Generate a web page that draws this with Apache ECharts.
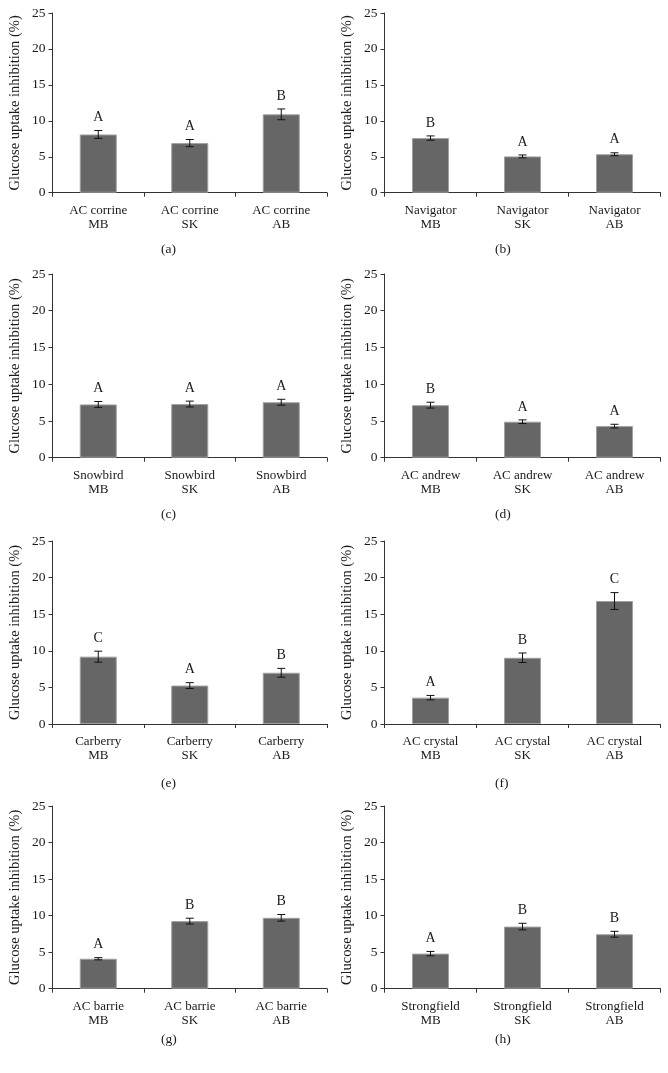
<!DOCTYPE html>
<html>
<head>
<meta charset="utf-8">
<script src="https://cdn.jsdelivr.net/npm/echarts@6/dist/echarts.min.js"></script>
<style>
html,body{margin:0;padding:0;background:#fff;}
#chart{width:668px;height:1073px;}
</style>
</head>
<body>
<div id="chart"></div>
<script>
// ---- data ----
const cultivars = ['AC corrine', 'Navigator', 'Snowbird', 'AC andrew', 'Carberry', 'AC crystal', 'AC barrie', 'Strongfield'];
const provinces = ['MB', 'SK', 'AB'];
const panelTags = ['(a)', '(b)', '(c)', '(d)', '(e)', '(f)', '(g)', '(h)'];
const yTicks = [0, 5, 10, 15, 20, 25];
const yAxisTitle = 'Glucose uptake inhibition (%)';

const meansA = [8.1, 6.9, 10.9];   const errA = [0.55, 0.5, 0.75];  const lettersA = ['A', 'A', 'B'];
const meansB = [7.6, 5.05, 5.35];  const errB = [0.3, 0.2, 0.2];    const lettersB = ['B', 'A', 'A'];
const meansC = [7.25, 7.3, 7.55];  const errC = [0.4, 0.4, 0.4];    const lettersC = ['A', 'A', 'A'];
const meansD = [7.15, 4.9, 4.3];   const errD = [0.4, 0.25, 0.25];  const lettersD = ['B', 'A', 'A'];
const meansE = [9.2, 5.25, 7.0];   const errE = [0.75, 0.4, 0.6];   const lettersE = ['C', 'A', 'B'];
const meansF = [3.6, 9.05, 16.8];  const errF = [0.3, 0.65, 1.15];  const lettersF = ['A', 'B', 'C'];
const meansG = [4.1, 9.25, 9.7];   const errG = [0.15, 0.4, 0.45];  const lettersG = ['A', 'B', 'B'];
const meansH = [4.8, 8.5, 7.45];   const errH = [0.3, 0.45, 0.4];   const lettersH = ['A', 'B', 'B'];

const allMeans = [meansA, meansB, meansC, meansD, meansE, meansF, meansG, meansH];
const allErr = [errA, errB, errC, errD, errE, errF, errG, errH];
const allLetters = [lettersA, lettersB, lettersC, lettersD, lettersE, lettersF, lettersG, lettersH];

// ---- layout ----
const colLeft = [52.5, 384.5];
const colWidth = [274.5, 276];
const rowTop = [13, 274, 541, 806];
const rowBottomY = [192.7, 457.7, 724, 988.7];
const tagY = [248, 513, 782, 1038];
const tagX = [170, 504];

const FONT = '"Liberation Serif", "Times New Roman", serif';
const AXIS_COLOR = '#333';
const TEXT_COLOR = '#1a1a1a';

const grids = [], xAxes = [], yAxes = [], series = [], graphics = [];

for (let p = 0; p < 8; p++) {
  const row = Math.floor(p / 2), col = p % 2;
  grids.push({
    left: colLeft[col], top: rowTop[row],
    width: colWidth[col], height: rowBottomY[row] - rowTop[row]
  });
  xAxes.push({
    type: 'category', gridIndex: p,
    data: provinces.map(pr => cultivars[p] + '\n' + pr),
    axisLine: { lineStyle: { color: AXIS_COLOR, width: 1 } },
    axisTick: { show: true, length: 4, lineStyle: { color: AXIS_COLOR } },
    axisLabel: { color: TEXT_COLOR, fontFamily: FONT, fontSize: 13, lineHeight: 14, margin: 11, interval: 0 },
    splitLine: { show: false }
  });
  yAxes.push({
    type: 'value', gridIndex: p, min: yTicks[0], max: yTicks[yTicks.length - 1], interval: yTicks[1] - yTicks[0],
    name: yAxisTitle, nameLocation: 'middle', nameGap: 30,
    nameTextStyle: { color: TEXT_COLOR, fontFamily: FONT, fontSize: 14.5 },
    axisLine: { show: true, lineStyle: { color: AXIS_COLOR, width: 1 } },
    axisTick: { show: true, length: 4, lineStyle: { color: AXIS_COLOR } },
    axisLabel: { color: TEXT_COLOR, fontFamily: FONT, fontSize: 13.5, margin: 7 },
    splitLine: { show: false }
  });
  series.push({
    type: 'bar', xAxisIndex: p, yAxisIndex: p,
    data: allMeans[p],
    barWidth: 37,
    itemStyle: { color: '#666666', borderColor: '#a0a0a0', borderWidth: 1 },
    silent: true
  });
  const letters = allLetters[p];
  series.push({
    type: 'custom', xAxisIndex: p, yAxisIndex: p,
    data: allMeans[p].map((m, i) => [i, m, allErr[p][i]]),
    silent: true,
    z: 5,
    renderItem: function (params, api) {
      const i = api.value(0), m = api.value(1), e = api.value(2);
      const top = api.coord([i, m + e]);
      const bot = api.coord([i, m - e]);
      const x = top[0];
      const cap = 4;
      const ls = { stroke: '#111', lineWidth: 1 };
      return {
        type: 'group',
        children: [
          { type: 'line', shape: { x1: x, y1: top[1], x2: x, y2: bot[1] }, style: ls },
          { type: 'line', shape: { x1: x - cap, y1: top[1], x2: x + cap, y2: top[1] }, style: ls },
          { type: 'line', shape: { x1: x - cap, y1: bot[1], x2: x + cap, y2: bot[1] }, style: ls },
          { type: 'text', style: {
              text: letters[params.dataIndex], x: x, y: top[1] - 6,
              align: 'center', verticalAlign: 'bottom',
              textAlign: 'center', textVerticalAlign: 'bottom',
              fill: TEXT_COLOR, font: '14px ' + FONT
          } }
        ]
      };
    }
  });
  graphics.push({
    type: 'text', left: tagX[col] - 9, top: tagY[row] - 6,
    style: { text: panelTags[p], fill: TEXT_COLOR, font: '13.5px ' + FONT }
  });
}

const chart = echarts.init(document.getElementById('chart'), null, { renderer: 'canvas' });
chart.setOption({
  animation: false,
  backgroundColor: '#ffffff',
  grid: grids,
  xAxis: xAxes,
  yAxis: yAxes,
  series: series,
  graphic: graphics
});
</script>
</body>
</html>
